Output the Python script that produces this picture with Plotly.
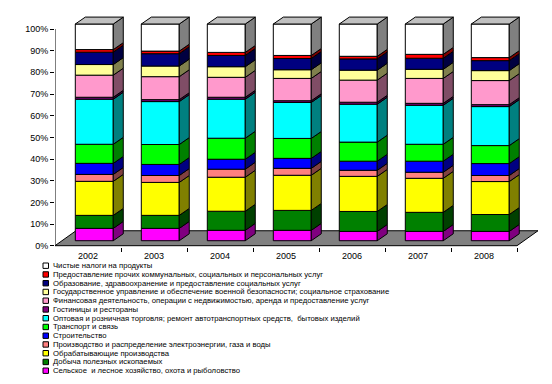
import plotly.graph_objects as go

# ---------------- data ----------------
years = ["2002", "2003", "2004", "2005", "2006", "2007", "2008"]

# shares, % (stack order bottom -> top)
agriculture = [5.7, 5.7, 4.8, 4.8, 4.3, 4.3, 4.3]
mining = [6.0, 6.0, 8.8, 9.2, 9.2, 8.8, 7.8]
manufacturing = [15.7, 15.2, 15.7, 16.2, 16.2, 15.7, 15.2]
energy = [3.2, 3.2, 3.7, 3.2, 2.8, 2.8, 2.8]
construction = [5.1, 5.1, 4.6, 4.6, 4.2, 5.1, 5.5]
transport = [8.8, 9.2, 9.7, 9.2, 8.8, 7.8, 8.3]
trade = [20.8, 19.8, 18.0, 16.6, 17.5, 18.0, 18.0]
hotels = [0.9, 0.9, 0.9, 0.8, 0.9, 0.9, 0.9]
finance = [10.2, 10.6, 9.2, 10.3, 10.2, 11.5, 11.1]
government = [4.9, 4.9, 4.9, 4.0, 4.6, 4.2, 4.6]
education = [5.7, 5.7, 5.2, 5.2, 5.2, 5.1, 4.6]
other_services = [1.2, 1.2, 1.4, 1.4, 1.2, 1.8, 1.4]
net_taxes = [11.8, 12.5, 13.1, 14.5, 14.9, 14.0, 15.5]

series = [agriculture, mining, manufacturing, energy, construction, transport,
          trade, hotels, finance, government, education, other_services, net_taxes]

names = [
    "Сельское  и лесное хозяйство, охота и рыболовство",
    "Добыча полезных ископаемых",
    "Обрабатывающие производства",
    "Производство и распределение электроэнергии, газа и воды",
    "Строительство",
    "Транспорт и связь",
    "Оптовая и розничная торговля; ремонт автотранспортных средств,  бытовых изделий",
    "Гостиницы и рестораны",
    "Финансовая деятельность, операции с недвижимостью, аренда и предоставление услуг",
    "Государственное управление и обеспечение военной безопасности; социальное страхование",
    "Образование, здравоохранение и предоставление социальных услуг",
    "Предоставление прочих коммунальных, социальных и персональных услуг",
    "Чистые налоги на продукты",
]

front_colors = ["#FF00FF", "#008000", "#FFFF00", "#FF8080", "#0000FF", "#00FF00",
                "#00FFFF", "#800080", "#FF99CC", "#FFFF99", "#000080", "#FF0000", "#FFFFFF"]
side_colors = ["#800080", "#004000", "#808000", "#804040", "#000080", "#008000",
               "#008080", "#400040", "#804D66", "#80804D", "#000040", "#800000", "#808080"]
top_color = "#C0C0C0"

# ---------------- geometry ----------------
OFF = 8  # page body margin of the browser
W, H = 552 - OFF, 384 - OFF
L, R, T, B = 55 - OFF, 10, 8 - OFF + 8, 137
plot_w = W - L - R
plot_h = H - T - B
px_x = 66.0      # px per category
px_y = 2.167     # px per percent
xr0 = -0.5
xr1 = xr0 + plot_w / px_x
yr0 = -(384 - B - 245.7) / px_y
yr1 = yr0 + plot_h / px_y

bar_w = 0.575
bar_off = 0.095
lift = 2.3          # front face lift (depth)
sdx, sdy = 0.152, 3.2   # bar depth
fdx, fdy = 0.318, 6.9   # floor depth

fig = go.Figure()

n = len(years)
cum = [0.0] * n
side_traces = []
for k, vals in enumerate(series):
    base = [cum[i] + lift for i in range(n)]
    fig.add_trace(go.Bar(
        x=[i + bar_off for i in range(n)], y=vals, base=base, width=bar_w,
        marker=dict(color=front_colors[k], line=dict(color="black", width=1)),
        showlegend=False, hoverinfo="skip"))
    xs, ys = [], []
    for i in range(n):
        xr = i + bar_off + bar_w / 2
        b0 = cum[i] + lift
        b1 = b0 + vals[i]
        xs += [xr, xr + sdx, xr + sdx, xr, xr, None]
        ys += [b0, b0 + sdy, b1 + sdy, b1, b0, None]
    side_traces.append(go.Scatter(x=xs, y=ys, mode="lines", fill="toself",
                                  fillcolor=side_colors[k],
                                  line=dict(color="black", width=1),
                                  showlegend=False, hoverinfo="skip"))
    cum = [cum[i] + vals[i] for i in range(n)]

for tr in side_traces:
    fig.add_trace(tr)

# top faces
xs, ys = [], []
for i in range(n):
    xl = i + bar_off - bar_w / 2
    xr = i + bar_off + bar_w / 2
    top = cum[i] + lift
    xs += [xl, xr, xr + sdx, xl + sdx, xl, None]
    ys += [top, top, top + sdy, top + sdy, top, None]
fig.add_trace(go.Scatter(x=xs, y=ys, mode="lines", fill="toself", fillcolor=top_color,
                         line=dict(color="black", width=1), showlegend=False, hoverinfo="skip"))

shapes = []
# floor
fx0, fx1 = -0.5, n - 0.5
shapes.append(dict(type="path", xref="x", yref="y", layer="below",
                   path=f"M {fx0},0 L {fx1},0 L {fx1 + fdx},{fdy} L {fx0 + fdx},{fdy} Z",
                   fillcolor="#808080", line=dict(color="black", width=1)))
# y axis line
shapes.append(dict(type="line", xref="x", yref="y", x0=-0.5, x1=-0.5, y0=0, y1=100,
                   line=dict(color="black", width=1)))


def paper_x(px):  # px in reference window coordinates
    return (px - OFF - L) / plot_w


def paper_y(py):
    return (H - B - (py - OFF)) / plot_h


annotations = []
legend_names = names[::-1]
legend_colors = front_colors[::-1]
row0, row_step = 265.7, 8.75
for j, nm in enumerate(legend_names):
    cy = row0 + j * row_step
    shapes.append(dict(type="rect", xref="paper", yref="paper",
                       x0=paper_x(43), x1=paper_x(48.5), y0=paper_y(cy + 2.7), y1=paper_y(cy - 2.7),
                       fillcolor=legend_colors[j], line=dict(color="black", width=1)))
    annotations.append(dict(xref="paper", yref="paper", x=paper_x(51.5), y=paper_y(cy),
                            xanchor="left", yanchor="middle", text=nm, showarrow=False,
                            font=dict(family="Liberation Sans, Arial", size=7.7, color="black"),
                            borderpad=0))

fig.update_layout(
    width=W, height=H,
    margin=dict(l=L, r=R, t=T, b=B),
    paper_bgcolor="white", plot_bgcolor="white",
    barmode="overlay",
    showlegend=False,
    shapes=shapes,
    annotations=annotations,
    xaxis=dict(range=[xr0, xr1], tickmode="array", tickvals=list(range(n)), ticktext=years,
               ticks="outside", ticklen=0, tickcolor="rgba(0,0,0,0)",
               showgrid=False, zeroline=False, showline=False, fixedrange=True,
               tickfont=dict(family="Liberation Sans, Arial", size=9, color="black"),
               minor=dict(tickmode="array", tickvals=[i + 0.5 for i in range(n)],
                          ticks="outside", ticklen=4, tickcolor="black", showgrid=False)),
    yaxis=dict(range=[yr0, yr1], tickmode="array", tickvals=list(range(0, 101, 10)),
               ticktext=[f"{v}%" for v in range(0, 101, 10)],
               ticks="outside", ticklen=4, tickcolor="black",
               showgrid=False, zeroline=False, showline=False, fixedrange=True,
               tickfont=dict(family="Liberation Sans, Arial", size=9, color="black")),
)

fig.write_html("out.html")
